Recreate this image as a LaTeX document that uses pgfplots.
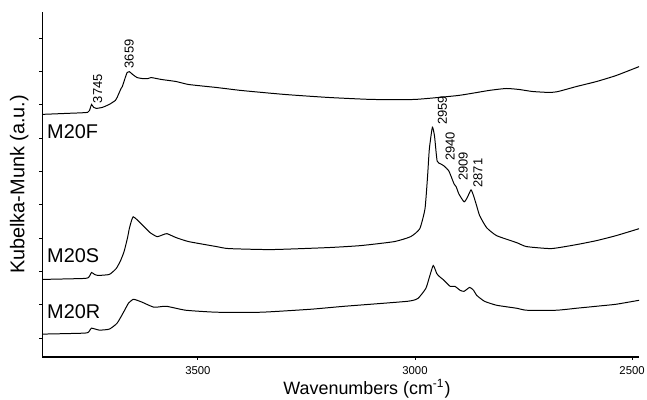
\documentclass[border=0pt]{standalone}
\usepackage{fontspec}
\setmainfont{Liberation Sans}
\usepackage{pgfplots}
\pgfplotsset{compat=1.18}
\usetikzlibrary{calc}
\begin{document}
\begin{tikzpicture}
\begin{axis}[
  scale only axis, width=300pt, height=173.5pt,
  x dir=reverse, xmin=2484, xmax=3858, ymin=0, ymax=347,
  axis x line=bottom, axis y line=left,
  axis line style={-, line width=0.8pt, black},
  xtick={2500,3000,3500},
  ytick={19,52.5,86,119.5,153,186.5,220,253.5,287,320.5}, yticklabels={},
  tick align=outside, major tick length=1.5pt, tick style={line width=0.5pt, black},
  /pgf/number format/assume math mode=true,
  xticklabel style={font=\fontsize{5.7}{7}\selectfont, /pgf/number format/1000 sep={}},
  xlabel={Wavenumbers (cm\textsuperscript{-1})},
  xlabel style={font=\fontsize{9}{10}\selectfont, at={(axis description cs:0.544,-0.092)}, anchor=center},
  ylabel={Kubelka-Munk (a.u.)},
  ylabel style={font=\fontsize{10}{11}\selectfont, at={(axis description cs:-0.039,0.5)}, anchor=center},
  clip=false,
]
% M20F
\addplot[black, no marks, line width=0.5pt, smooth, tension=0.3] coordinates {
(3857,244) (3800,245) (3754,246) (3748,250) (3745,254) (3740,251) (3734,250) (3720,251)
(3704,254) (3690,258) (3686,261) (3677,270) (3674,272) (3668,280) (3663,286) (3658,287)
(3650,284) (3640,281) (3628,280) (3615,280) (3608,281) (3595,280) (3583,279) (3550,277)
(3521,274) (3457,271) (3400,268) (3300,264) (3200,261) (3100,259) (3000,259) (2900,263)
(2830,268) (2790,270) (2760,269) (2730,267) (2690,266) (2670,267) (2628,272) (2582,277)
(2537,283) (2484,292)
};
% M20S
\addplot[black, no marks, line width=0.5pt, smooth, tension=0.3] coordinates {
(3857,78) (3760,79) (3750,81) (3745,85) (3738,83) (3730,82) (3704,83) (3688,89) (3678,97)
(3670,106) (3662,120) (3658,129) (3653,137) (3649,141) (3640,138) (3624,131) (3610,125)
(3594,121) (3580,123) (3571,124) (3550,120) (3521,116) (3457,111) (3429,109) (3331,108)
(3200,110) (3125,112) (3048,116) (3010,121) (2989,129) (2977,149) (2971,182) (2967,209)
(2960,231) (2955,222) (2949,197) (2940,194) (2933,192) (2922,187) (2910,174) (2905,171)
(2899,164) (2887,156) (2880,160) (2871,168) (2865,162) (2858,152) (2851,142) (2835,130)
(2812,122) (2766,115) (2743,111) (2686,109) (2628,113) (2582,117) (2537,122) (2484,129)
};
% M20R
\addplot[black, no marks, line width=0.5pt, smooth, tension=0.3] coordinates {
(3857,23) (3760,24) (3750,26) (3745,29) (3727,27) (3704,28) (3686,34) (3670,46) (3660,54)
(3649,58) (3640,57) (3628,55) (3601,50) (3573,51) (3528,47) (3457,45) (3354,45) (3240,48)
(3162,51) (3017,56) (2993,59) (2975,69) (2967,80) (2958,92) (2950,84) (2944,81) (2933,77)
(2919,71) (2908,71) (2896,67) (2887,66) (2874,70) (2865,67) (2858,62) (2840,56) (2812,52)
(2766,49) (2743,47) (2674,47) (2628,49) (2582,51) (2537,53) (2484,57)
};
\node[anchor=west, inner sep=0pt, font=\fontsize{10}{11}\selectfont] at (axis cs:3848,226.5) {M20F};
\node[anchor=west, inner sep=0pt, font=\fontsize{10}{11}\selectfont] at (axis cs:3848,101.5) {M20S};
\node[anchor=west, inner sep=0pt, font=\fontsize{10}{11}\selectfont] at (axis cs:3848,45.5) {M20R};
\begin{scope}[every node/.style={rotate=90, anchor=west, inner sep=0.5pt, font=\fontsize{6.5}{7}\selectfont}]
\node at (axis cs:3731,254) {3745};
\node at (axis cs:3658,289) {3659};
\node at (axis cs:2937,232) {2959};
\node at (axis cs:2919,196) {2940};
\node at (axis cs:2889,176) {2909};
\node at (axis cs:2855,169) {2871};
\end{scope}
\end{axis}
\pgfresetboundingbox
\path[use as bounding box] ($(current axis.south west)+(-21.35pt,-21.5pt)$) rectangle ($(current axis.north east)+(4pt,6pt)$);
\end{tikzpicture}
\end{document}
